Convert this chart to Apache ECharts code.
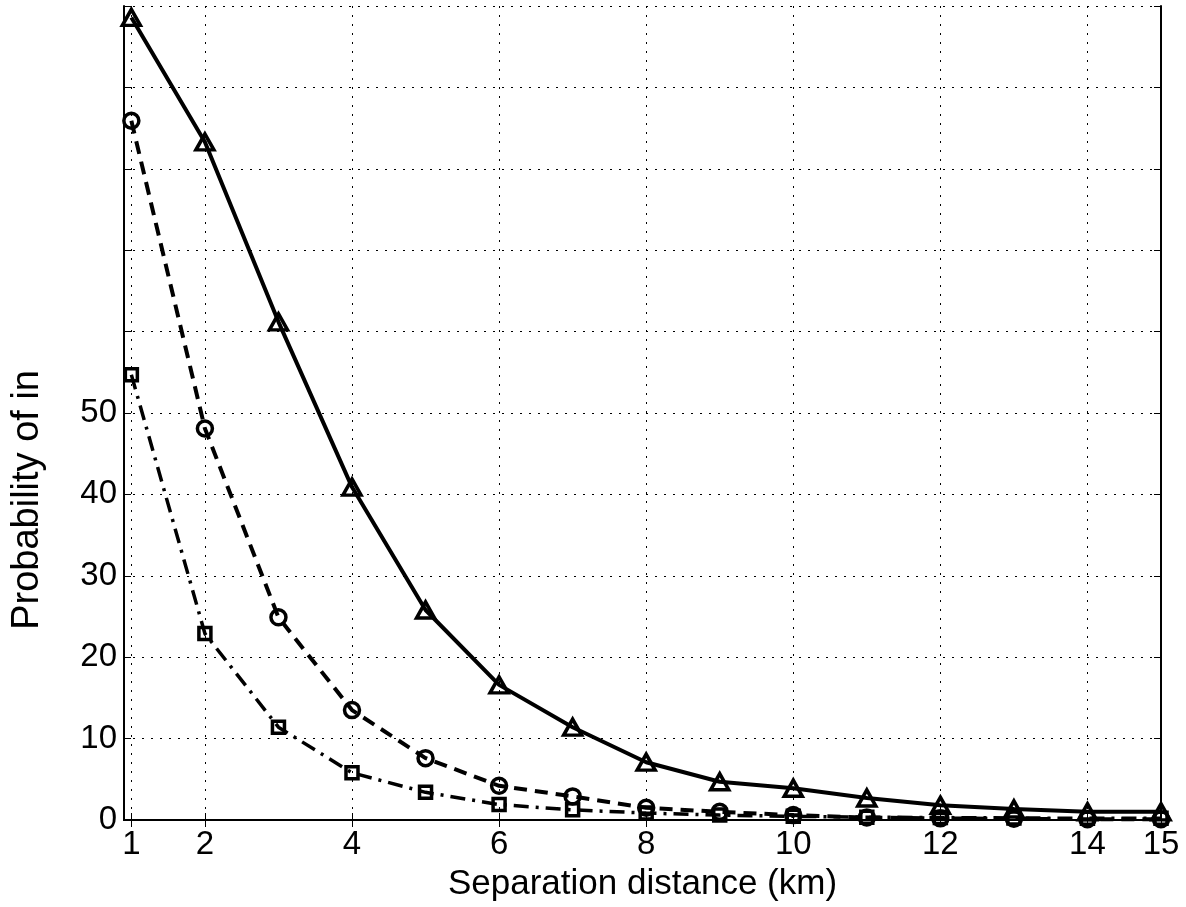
<!DOCTYPE html>
<html>
<head>
<meta charset="utf-8">
<script src="https://cdn.jsdelivr.net/npm/echarts@6/dist/echarts.min.js"></script>
<style>
html,body{margin:0;padding:0;background:#fff;}
#c{width:1186px;height:907px;}
</style>
</head>
<body>
<div id="c"></div>
<script>
const distances = [1,2,3,4,5,6,7,8,9,10,11,12,13,14,15];
const triangleSeries = [98.6,83.3,61.2,40.9,25.8,16.6,11.4,7.1,4.7,3.9,2.7,1.8,1.35,1.0,1.0];
const circleSeries   = [85.9,48.1,24.9,13.5,7.6,4.2,2.9,1.5,1.0,0.6,0.3,0.2,0.15,0.1,0.1];
const squareSeries   = [54.7,22.9,11.4,5.8,3.4,1.9,1.25,0.85,0.6,0.45,0.35,0.3,0.25,0.2,0.2];
const xTickValues = [1,2,4,6,8,10,12,14,15];
const yLabelValues = [0,10,20,30,40,50];
const xTitle = 'Separation distance (km)';
const yTitle = 'Probability of in';

const FONT = '"Liberation Sans", Helvetica, Arial, sans-serif';
const pair = arr => distances.map((d,i)=>[d, arr[i]]);

const chart = echarts.init(document.getElementById('c'), null, {renderer:'canvas'});
const axisLine = {show:true, lineStyle:{color:'#000', width:2}};
const gridLine = {color:'#000', width:1, type:[2,7]};

chart.setOption({
  animation:false,
  backgroundColor:'#fff',
  grid:{left:124, right:25, top:6, bottom:85, containLabel:false},
  xAxis:[{
    type:'value', min:0.9, max:15, position:'bottom',
    axisLine:axisLine,
    axisTick:{show:true, inside:true, length:7, customValues:xTickValues, lineStyle:{color:'#000', width:1}},
    axisLabel:{customValues:xTickValues, color:'#000', fontSize:33, fontFamily:FONT, margin:8},
    splitLine:{show:true, lineStyle:gridLine},
    name:xTitle, nameLocation:'middle', nameGap:47,
    nameTextStyle:{color:'#000', fontSize:35, fontFamily:FONT}
  },{
    type:'value', min:0.9, max:15, position:'top',
    axisLine:axisLine,
    axisTick:{show:true, inside:true, length:7, customValues:xTickValues, lineStyle:{color:'#000', width:1}},
    axisLabel:{show:false}, splitLine:{show:false}
  }],
  yAxis:[{
    type:'value', min:0, max:100, interval:10, position:'left',
    axisLine:axisLine,
    axisTick:{show:true, inside:true, length:7, lineStyle:{color:'#000', width:1}},
    axisLabel:{customValues:yLabelValues, color:'#000', fontSize:33, fontFamily:FONT, margin:7},
    splitLine:{show:true, lineStyle:gridLine}
  },{
    type:'value', min:0, max:100, interval:10, position:'right',
    axisLine:axisLine,
    axisTick:{show:true, inside:true, length:7, lineStyle:{color:'#000', width:1}},
    axisLabel:{show:false}, splitLine:{show:false}
  }],
  graphic:[{
    type:'text', left:9, top:370, rotation:Math.PI/2,
    style:{text:yTitle, fill:'#000', font:'38px ' + FONT}
  }],
  series:[{
    type:'line', data:pair(triangleSeries), symbol:'triangle', symbolSize:[18,16],
    lineStyle:{color:'#000', width:4, type:'solid'},
    itemStyle:{color:'rgba(0,0,0,0)', borderColor:'#000', borderWidth:3.5},
    z:3
  },{
    type:'line', data:pair(circleSeries), symbol:'circle', symbolSize:15,
    lineStyle:{color:'#000', width:4, type:[13,8]},
    itemStyle:{color:'rgba(0,0,0,0)', borderColor:'#000', borderWidth:3.5},
    z:3
  },{
    type:'line', data:pair(squareSeries), symbol:'rect', symbolSize:12,
    lineStyle:{color:'#000', width:3.5, type:[15,7,3,7]},
    itemStyle:{color:'rgba(0,0,0,0)', borderColor:'#000', borderWidth:3.5},
    z:3
  }]
});
</script>
</body>
</html>
